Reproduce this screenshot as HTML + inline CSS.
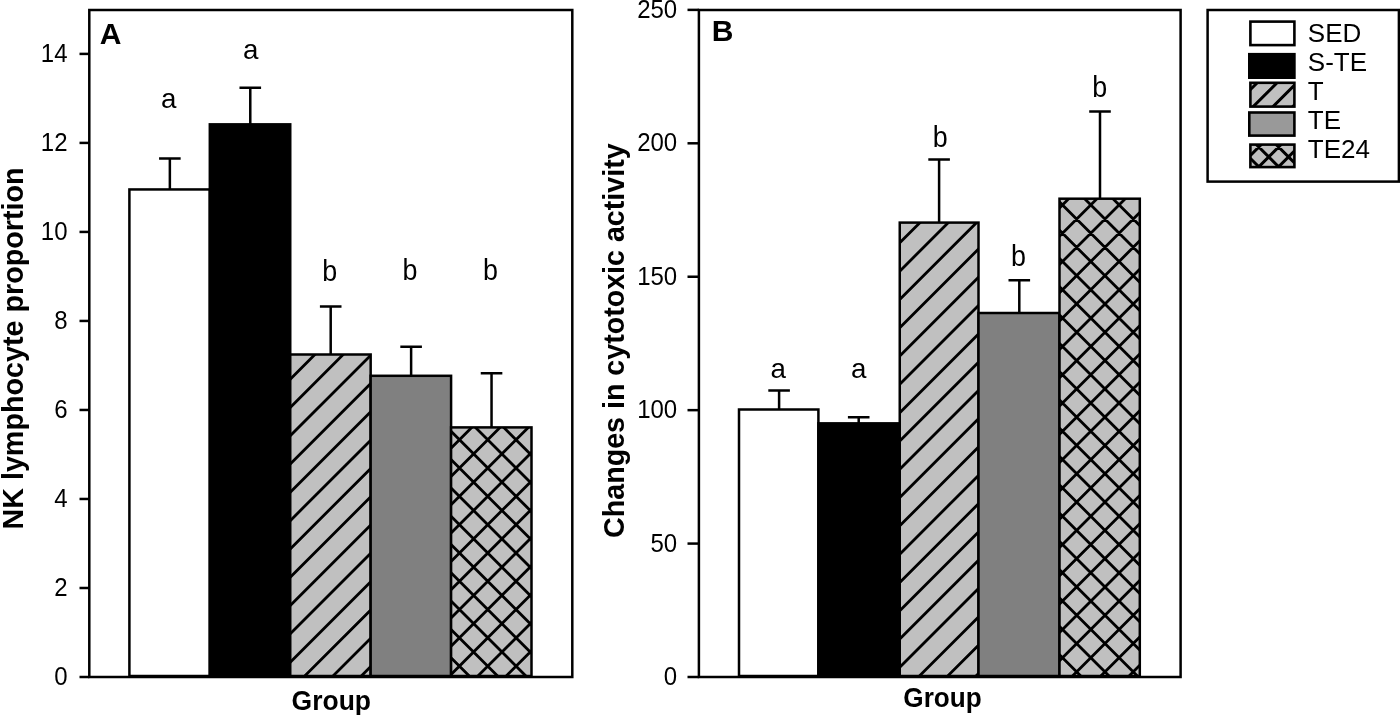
<!DOCTYPE html>
<html><head><meta charset="utf-8"><title>Figure</title>
<style>html,body{margin:0;padding:0;background:#fff;overflow:hidden}svg{display:block;filter:grayscale(1) blur(0.35px)}</style>
</head><body>
<svg width="1400" height="715" viewBox="0 0 1400 715" font-family="Liberation Sans, sans-serif" fill="#000">
<rect x="0" y="0" width="1400" height="715" fill="#fff"/>
<path d="M169.86 189.45V158.40M159.06 158.40H180.66" stroke="#000" stroke-width="2.5" fill="none"/>
<path d="M250.28 124.35V87.80M239.48 87.80H261.08" stroke="#000" stroke-width="2.5" fill="none"/>
<path d="M330.70 354.50V306.40M319.90 306.40H341.50" stroke="#000" stroke-width="2.5" fill="none"/>
<path d="M411.12 375.80V346.80M400.32 346.80H421.92" stroke="#000" stroke-width="2.5" fill="none"/>
<path d="M491.54 427.40V373.20M480.74 373.20H502.34" stroke="#000" stroke-width="2.5" fill="none"/>
<rect x="129.40" y="189.45" width="80.42" height="486.55" fill="#fff" stroke="none"/>
<rect x="129.40" y="189.45" width="80.42" height="486.55" fill="none" stroke="#000" stroke-width="2.5"/>
<rect x="209.82" y="124.35" width="80.42" height="551.65" fill="#000" stroke="none"/>
<rect x="209.82" y="124.35" width="80.42" height="551.65" fill="none" stroke="#000" stroke-width="2.5"/>
<rect x="290.24" y="354.50" width="80.42" height="321.50" fill="#c0c0c0" stroke="none"/>
<clipPath id="c1"><rect x="290.24" y="354.50" width="80.42" height="321.50"/></clipPath>
<path d="M285.24 327.56L375.66 237.14M285.24 355.86L375.66 265.44M285.24 384.16L375.66 293.74M285.24 412.46L375.66 322.04M285.24 440.76L375.66 350.34M285.24 469.06L375.66 378.64M285.24 497.36L375.66 406.94M285.24 525.66L375.66 435.24M285.24 553.96L375.66 463.54M285.24 582.26L375.66 491.84M285.24 610.56L375.66 520.14M285.24 638.86L375.66 548.44M285.24 667.16L375.66 576.74M285.24 695.46L375.66 605.04M285.24 723.76L375.66 633.34M285.24 752.06L375.66 661.64M285.24 780.36L375.66 689.94M285.24 808.66L375.66 718.24" stroke="#000" stroke-width="2.8" fill="none" clip-path="url(#c1)"/>
<rect x="290.24" y="354.50" width="80.42" height="321.50" fill="none" stroke="#000" stroke-width="2.5"/>
<rect x="370.66" y="375.80" width="80.42" height="300.20" fill="#808080" stroke="none"/>
<rect x="370.66" y="375.80" width="80.42" height="300.20" fill="none" stroke="#000" stroke-width="2.5"/>
<rect x="451.08" y="427.40" width="80.42" height="248.60" fill="#c0c0c0" stroke="none"/>
<clipPath id="c2"><rect x="451.08" y="427.40" width="80.42" height="248.60"/></clipPath>
<path d="M446.08 396.52L536.50 306.10M446.08 424.82L536.50 334.40M446.08 453.12L536.50 362.70M446.08 481.42L536.50 391.00M446.08 509.72L536.50 419.30M446.08 538.02L536.50 447.60M446.08 566.32L536.50 475.90M446.08 594.62L536.50 504.20M446.08 622.92L536.50 532.50M446.08 651.22L536.50 560.80M446.08 679.52L536.50 589.10M446.08 707.82L536.50 617.40M446.08 736.12L536.50 645.70M446.08 764.42L536.50 674.00M446.08 792.72L536.50 702.30M446.08 313.18L536.50 403.60M446.08 341.48L536.50 431.90M446.08 369.78L536.50 460.20M446.08 398.08L536.50 488.50M446.08 426.38L536.50 516.80M446.08 454.68L536.50 545.10M446.08 482.98L536.50 573.40M446.08 511.28L536.50 601.70M446.08 539.58L536.50 630.00M446.08 567.88L536.50 658.30M446.08 596.18L536.50 686.60M446.08 624.48L536.50 714.90M446.08 652.78L536.50 743.20M446.08 681.08L536.50 771.50M446.08 709.38L536.50 799.80" stroke="#000" stroke-width="2.8" fill="none" clip-path="url(#c2)"/>
<rect x="451.08" y="427.40" width="80.42" height="248.60" fill="none" stroke="#000" stroke-width="2.5"/>
<rect x="89.3" y="10.0" width="482.99999999999994" height="667.0" fill="none" stroke="#000" stroke-width="2.5"/>
<path d="M79.5 677.00H89.3" stroke="#000" stroke-width="2.5"/>
<text transform="translate(67.50,684.60) scale(0.96,1)" font-size="25" text-anchor="end" >0</text>
<path d="M79.5 587.99H89.3" stroke="#000" stroke-width="2.5"/>
<text transform="translate(67.50,595.59) scale(0.96,1)" font-size="25" text-anchor="end" >2</text>
<path d="M79.5 498.97H89.3" stroke="#000" stroke-width="2.5"/>
<text transform="translate(67.50,506.57) scale(0.96,1)" font-size="25" text-anchor="end" >4</text>
<path d="M79.5 409.96H89.3" stroke="#000" stroke-width="2.5"/>
<text transform="translate(67.50,417.56) scale(0.96,1)" font-size="25" text-anchor="end" >6</text>
<path d="M79.5 320.94H89.3" stroke="#000" stroke-width="2.5"/>
<text transform="translate(67.50,328.54) scale(0.96,1)" font-size="25" text-anchor="end" >8</text>
<path d="M79.5 231.93H89.3" stroke="#000" stroke-width="2.5"/>
<text transform="translate(67.50,239.53) scale(0.96,1)" font-size="25" text-anchor="end" >10</text>
<path d="M79.5 142.91H89.3" stroke="#000" stroke-width="2.5"/>
<text transform="translate(67.50,150.51) scale(0.96,1)" font-size="25" text-anchor="end" >12</text>
<path d="M79.5 53.90H89.3" stroke="#000" stroke-width="2.5"/>
<text transform="translate(67.50,61.50) scale(0.96,1)" font-size="25" text-anchor="end" >14</text>
<text transform="translate(99.80,44.00) scale(1.0,1)" font-size="30" text-anchor="start" font-weight="bold" >A</text>
<text transform="translate(168.80,107.60) scale(0.98,1)" font-size="28.3" text-anchor="middle" >a</text>
<text transform="translate(250.60,59.40) scale(0.98,1)" font-size="28.3" text-anchor="middle" >a</text>
<text transform="translate(329.60,281.20) scale(0.905,1)" font-size="29.7" text-anchor="middle" >b</text>
<text transform="translate(410.00,280.00) scale(0.905,1)" font-size="29.7" text-anchor="middle" >b</text>
<text transform="translate(490.40,280.30) scale(0.905,1)" font-size="29.7" text-anchor="middle" >b</text>
<text transform="translate(331.30,709.90) scale(1.0,1)" font-size="27" text-anchor="middle" font-weight="bold" textLength="79.4" lengthAdjust="spacingAndGlyphs">Group</text>
<text transform="translate(23,529.5) rotate(-90)" font-size="29.2" font-weight="bold" textLength="362" lengthAdjust="spacingAndGlyphs">NK lymphocyte proportion</text>
<path d="M779.10 409.50V390.60M768.30 390.60H789.90" stroke="#000" stroke-width="2.5" fill="none"/>
<path d="M858.70 423.35V417.20M847.90 417.20H869.50" stroke="#000" stroke-width="2.5" fill="none"/>
<path d="M939.10 222.60V159.60M928.30 159.60H949.90" stroke="#000" stroke-width="2.5" fill="none"/>
<path d="M1019.30 313.00V280.20M1008.50 280.20H1030.10" stroke="#000" stroke-width="2.5" fill="none"/>
<path d="M1100.00 198.70V111.60M1089.20 111.60H1110.80" stroke="#000" stroke-width="2.5" fill="none"/>
<rect x="739.00" y="409.50" width="79.40" height="266.50" fill="#fff" stroke="none"/>
<rect x="739.00" y="409.50" width="79.40" height="266.50" fill="none" stroke="#000" stroke-width="2.5"/>
<rect x="818.40" y="423.35" width="81.35" height="252.65" fill="#000" stroke="none"/>
<rect x="818.40" y="423.35" width="81.35" height="252.65" fill="none" stroke="#000" stroke-width="2.5"/>
<rect x="899.75" y="222.60" width="78.75" height="453.40" fill="#c0c0c0" stroke="none"/>
<clipPath id="c3"><rect x="899.75" y="222.60" width="78.75" height="453.40"/></clipPath>
<path d="M894.75 191.25L983.50 102.50M894.75 219.55L983.50 130.80M894.75 247.85L983.50 159.10M894.75 276.15L983.50 187.40M894.75 304.45L983.50 215.70M894.75 332.75L983.50 244.00M894.75 361.05L983.50 272.30M894.75 389.35L983.50 300.60M894.75 417.65L983.50 328.90M894.75 445.95L983.50 357.20M894.75 474.25L983.50 385.50M894.75 502.55L983.50 413.80M894.75 530.85L983.50 442.10M894.75 559.15L983.50 470.40M894.75 587.45L983.50 498.70M894.75 615.75L983.50 527.00M894.75 644.05L983.50 555.30M894.75 672.35L983.50 583.60M894.75 700.65L983.50 611.90M894.75 728.95L983.50 640.20M894.75 757.25L983.50 668.50M894.75 785.55L983.50 696.80M894.75 813.85L983.50 725.10" stroke="#000" stroke-width="2.8" fill="none" clip-path="url(#c3)"/>
<rect x="899.75" y="222.60" width="78.75" height="453.40" fill="none" stroke="#000" stroke-width="2.5"/>
<rect x="978.50" y="313.00" width="81.00" height="363.00" fill="#808080" stroke="none"/>
<rect x="978.50" y="313.00" width="81.00" height="363.00" fill="none" stroke="#000" stroke-width="2.5"/>
<rect x="1059.50" y="198.70" width="80.30" height="477.30" fill="#c0c0c0" stroke="none"/>
<clipPath id="c4"><rect x="1059.50" y="198.70" width="80.30" height="477.30"/></clipPath>
<path d="M1054.50 156.30L1144.80 66.00M1054.50 184.60L1144.80 94.30M1054.50 212.90L1144.80 122.60M1054.50 241.20L1144.80 150.90M1054.50 269.50L1144.80 179.20M1054.50 297.80L1144.80 207.50M1054.50 326.10L1144.80 235.80M1054.50 354.40L1144.80 264.10M1054.50 382.70L1144.80 292.40M1054.50 411.00L1144.80 320.70M1054.50 439.30L1144.80 349.00M1054.50 467.60L1144.80 377.30M1054.50 495.90L1144.80 405.60M1054.50 524.20L1144.80 433.90M1054.50 552.50L1144.80 462.20M1054.50 580.80L1144.80 490.50M1054.50 609.10L1144.80 518.80M1054.50 637.40L1144.80 547.10M1054.50 665.70L1144.80 575.40M1054.50 694.00L1144.80 603.70M1054.50 722.30L1144.80 632.00M1054.50 750.60L1144.80 660.30M1054.50 778.90L1144.80 688.60M1054.50 807.20L1144.80 716.90M1054.50 83.70L1144.80 174.00M1054.50 112.00L1144.80 202.30M1054.50 140.30L1144.80 230.60M1054.50 168.60L1144.80 258.90M1054.50 196.90L1144.80 287.20M1054.50 225.20L1144.80 315.50M1054.50 253.50L1144.80 343.80M1054.50 281.80L1144.80 372.10M1054.50 310.10L1144.80 400.40M1054.50 338.40L1144.80 428.70M1054.50 366.70L1144.80 457.00M1054.50 395.00L1144.80 485.30M1054.50 423.30L1144.80 513.60M1054.50 451.60L1144.80 541.90M1054.50 479.90L1144.80 570.20M1054.50 508.20L1144.80 598.50M1054.50 536.50L1144.80 626.80M1054.50 564.80L1144.80 655.10M1054.50 593.10L1144.80 683.40M1054.50 621.40L1144.80 711.70M1054.50 649.70L1144.80 740.00M1054.50 678.00L1144.80 768.30M1054.50 706.30L1144.80 796.60" stroke="#000" stroke-width="2.8" fill="none" clip-path="url(#c4)"/>
<rect x="1059.50" y="198.70" width="80.30" height="477.30" fill="none" stroke="#000" stroke-width="2.5"/>
<rect x="698.9" y="10.0" width="481.69999999999993" height="667.0" fill="none" stroke="#000" stroke-width="2.5"/>
<path d="M687.5 677.00H698.9" stroke="#000" stroke-width="2.5"/>
<text transform="translate(677.20,685.00) scale(0.96,1)" font-size="25" text-anchor="end" >0</text>
<path d="M687.5 543.58H698.9" stroke="#000" stroke-width="2.5"/>
<text transform="translate(677.20,551.58) scale(0.96,1)" font-size="25" text-anchor="end" >50</text>
<path d="M687.5 410.15H698.9" stroke="#000" stroke-width="2.5"/>
<text transform="translate(677.20,418.15) scale(0.96,1)" font-size="25" text-anchor="end" >100</text>
<path d="M687.5 276.73H698.9" stroke="#000" stroke-width="2.5"/>
<text transform="translate(677.20,284.73) scale(0.96,1)" font-size="25" text-anchor="end" >150</text>
<path d="M687.5 143.30H698.9" stroke="#000" stroke-width="2.5"/>
<text transform="translate(677.20,151.30) scale(0.96,1)" font-size="25" text-anchor="end" >200</text>
<path d="M687.5 9.88H698.9" stroke="#000" stroke-width="2.5"/>
<text transform="translate(677.20,17.88) scale(0.96,1)" font-size="25" text-anchor="end" >250</text>
<text transform="translate(711.80,41.30) scale(1.0,1)" font-size="30" text-anchor="start" font-weight="bold" >B</text>
<text transform="translate(778.30,378.00) scale(0.98,1)" font-size="28.3" text-anchor="middle" >a</text>
<text transform="translate(858.80,378.00) scale(0.98,1)" font-size="28.3" text-anchor="middle" >a</text>
<text transform="translate(940.20,147.20) scale(0.905,1)" font-size="29.7" text-anchor="middle" >b</text>
<text transform="translate(1018.50,266.00) scale(0.905,1)" font-size="29.7" text-anchor="middle" >b</text>
<text transform="translate(1099.80,96.60) scale(0.905,1)" font-size="29.7" text-anchor="middle" >b</text>
<text transform="translate(942.50,707.40) scale(1.0,1)" font-size="27" text-anchor="middle" font-weight="bold" textLength="78.4" lengthAdjust="spacingAndGlyphs">Group</text>
<text transform="translate(623.7,537.9) rotate(-90)" font-size="29.2" font-weight="bold" textLength="394.5" lengthAdjust="spacingAndGlyphs">Changes in cytotoxic activity</text>
<rect x="1207.6" y="10" width="191.30" height="171.60" fill="none" stroke="#000" stroke-width="2.5"/>
<rect x="1250.40" y="21.60" width="44.00" height="23.50" fill="#fff" stroke="none"/>
<rect x="1250.40" y="21.60" width="44.00" height="23.50" fill="none" stroke="#000" stroke-width="2.6"/>
<text transform="translate(1307.80,42.30) scale(1.0,1)" font-size="26" text-anchor="start" >SED</text>
<rect x="1249.30" y="54.20" width="45.10" height="23.50" fill="#000" stroke="none"/>
<rect x="1249.30" y="54.20" width="45.10" height="23.50" fill="none" stroke="#000" stroke-width="2.6"/>
<text transform="translate(1307.80,71.20) scale(1.0,1)" font-size="26" text-anchor="start" >S-TE</text>
<rect x="1250.40" y="82.80" width="44.00" height="23.80" fill="#c0c0c0" stroke="none"/>
<clipPath id="c5"><rect x="1250.40" y="82.80" width="44.00" height="23.80"/></clipPath>
<path d="M1245.40 55.00L1299.40 1.00M1245.40 74.80L1299.40 20.80M1245.40 94.60L1299.40 40.60M1245.40 114.40L1299.40 60.40M1245.40 134.20L1299.40 80.20M1245.40 154.00L1299.40 100.00M1245.40 173.80L1299.40 119.80M1245.40 193.60L1299.40 139.60" stroke="#000" stroke-width="3.0" fill="none" clip-path="url(#c5)"/>
<rect x="1250.40" y="82.80" width="44.00" height="23.80" fill="none" stroke="#000" stroke-width="2.6"/>
<text transform="translate(1307.80,99.60) scale(1.0,1)" font-size="26" text-anchor="start" >T</text>
<rect x="1249.30" y="112.50" width="45.10" height="23.10" fill="#999999" stroke="none"/>
<rect x="1249.30" y="112.50" width="45.10" height="23.10" fill="none" stroke="#000" stroke-width="2.6"/>
<text transform="translate(1307.80,129.10) scale(1.0,1)" font-size="26" text-anchor="start" >TE</text>
<rect x="1250.40" y="144.60" width="44.00" height="22.50" fill="#c0c0c0" stroke="none"/>
<clipPath id="c6"><rect x="1250.40" y="144.60" width="44.00" height="22.50"/></clipPath>
<path d="M1245.40 120.80L1299.40 66.80M1245.40 140.60L1299.40 86.60M1245.40 160.40L1299.40 106.40M1245.40 180.20L1299.40 126.20M1245.40 200.00L1299.40 146.00M1245.40 219.80L1299.40 165.80M1245.40 239.60L1299.40 185.60M1245.40 74.20L1299.40 128.20M1245.40 94.00L1299.40 148.00M1245.40 113.80L1299.40 167.80M1245.40 133.60L1299.40 187.60M1245.40 153.40L1299.40 207.40M1245.40 173.20L1299.40 227.20M1245.40 193.00L1299.40 247.00" stroke="#000" stroke-width="3.0" fill="none" clip-path="url(#c6)"/>
<rect x="1250.40" y="144.60" width="44.00" height="22.50" fill="none" stroke="#000" stroke-width="2.6"/>
<text transform="translate(1307.80,158.10) scale(1.0,1)" font-size="26" text-anchor="start" >TE24</text>
</svg></body></html>
